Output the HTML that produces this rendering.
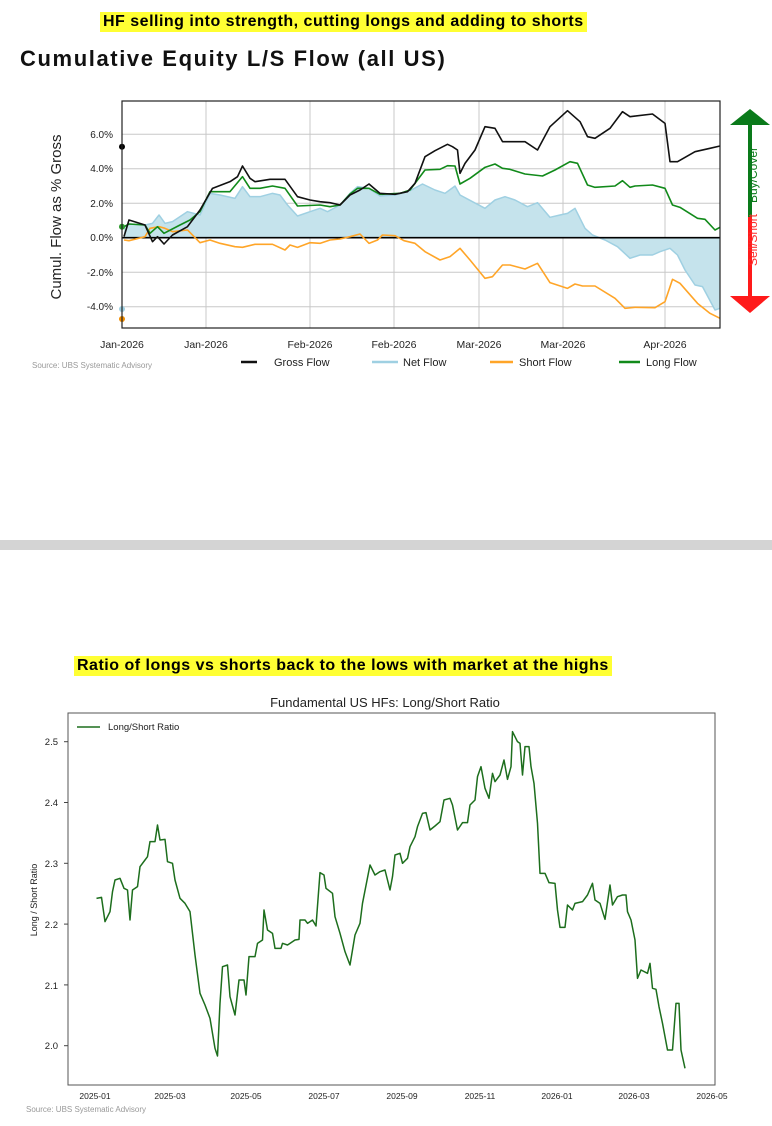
<!DOCTYPE html>
<html><head><meta charset="utf-8"><style>
body{margin:0;background:#fff;width:772px;height:1126px;overflow:hidden;position:relative;font-family:"Liberation Sans",sans-serif}
.hl{position:absolute;background:#ffff33;font-weight:bold;font-size:16px;letter-spacing:0.5px;color:#000;line-height:20px;padding:0 3px;white-space:nowrap}
</style></head><body>
<div class="hl" style="left:100px;top:12px">HF selling into strength, cutting longs and adding to shorts</div>
<div style="position:absolute;left:20px;top:46px;font-size:22px;letter-spacing:1.6px;font-weight:bold;color:#111;white-space:nowrap">Cumulative Equity L/S Flow (all US)</div>
<div style="position:absolute;left:0;top:540px;width:772px;height:10px;background:#d4d4d4"></div>
<div class="hl" style="left:74px;top:656px">Ratio of longs vs shorts back to the lows with market at the highs</div>
<svg width="772" height="1126" style="position:absolute;left:0;top:0" font-family="Liberation Sans, DejaVu Sans, sans-serif">
<g stroke="#c8c8c8" stroke-width="1">
<line x1="122" x2="720" y1="134.3" y2="134.3"/><line x1="122" x2="720" y1="168.8" y2="168.8"/><line x1="122" x2="720" y1="203.3" y2="203.3"/><line x1="122" x2="720" y1="272.2" y2="272.2"/><line x1="122" x2="720" y1="306.7" y2="306.7"/>
<line x1="206" x2="206" y1="101" y2="328"/><line x1="310" x2="310" y1="101" y2="328"/><line x1="394" x2="394" y1="101" y2="328"/><line x1="479" x2="479" y1="101" y2="328"/><line x1="563" x2="563" y1="101" y2="328"/><line x1="665" x2="665" y1="101" y2="328"/>
</g>
<g transform="translate(0,80) scale(0.5,0.33333)" fill="none" stroke-linejoin="round">
<polygon fill="#c5e3ec" stroke="none" points="248,473 248,440 258,432 290,435 305,430 318,405 330,430 345,425 375,395 400,405 420,340 440,345 470,355 485,320 500,350 520,350 545,340 560,345 575,375 595,408 620,395 640,385 655,395 680,375 700,340 715,320 738,325 760,348 790,345 820,332 845,312 870,330 890,340 910,318 920,345 945,365 970,385 990,360 1010,350 1030,360 1055,380 1075,368 1100,412 1120,405 1135,400 1150,385 1170,445 1185,465 1210,480 1235,500 1260,535 1280,525 1305,525 1320,515 1340,505 1355,525 1370,570 1390,615 1405,620 1430,690 1440,685 1440,473"/>
<polyline vector-effect="non-scaling-stroke" stroke="#9fd0e2" stroke-width="1.5" points="248,440 258,432 290,435 305,430 318,405 330,430 345,425 375,395 400,405 420,340 440,345 470,355 485,320 500,350 520,350 545,340 560,345 575,375 595,408 620,395 640,385 655,395 680,375 700,340 715,320 738,325 760,348 790,345 820,332 845,312 870,330 890,340 910,318 920,345 945,365 970,385 990,360 1010,350 1030,360 1055,380 1075,368 1100,412 1120,405 1135,400 1150,385 1170,445 1185,465 1210,480 1235,500 1260,535 1280,525 1305,525 1320,515 1340,505 1355,525 1370,570 1390,615 1405,620 1430,690 1440,685"/>
<line vector-effect="non-scaling-stroke" x1="245" x2="1440" y1="473" y2="473" stroke="#000" stroke-width="1.6"/>
<polyline vector-effect="non-scaling-stroke" stroke="#ffa528" stroke-width="1.6" points="248,480 258,482 290,470 300,445 318,440 330,445 345,455 375,450 400,488 420,480 440,490 470,500 485,502 510,493 545,493 570,510 580,495 595,502 620,488 640,490 660,480 680,477 700,470 720,462 738,490 755,480 765,465 790,467 808,482 830,490 850,515 880,540 900,530 920,505 940,540 970,595 985,590 1005,555 1020,555 1050,567 1075,550 1100,608 1135,625 1150,612 1165,618 1190,618 1230,655 1250,685 1270,682 1310,683 1330,665 1345,598 1360,610 1395,670 1420,700 1440,715"/>
<polyline vector-effect="non-scaling-stroke" stroke="#118a1a" stroke-width="1.6" points="248,440 258,432 290,435 300,460 315,440 328,460 360,435 380,420 400,395 420,335 440,335 460,335 485,290 500,325 520,325 545,318 570,325 595,378 640,375 660,380 680,375 700,342 715,325 738,325 760,343 800,340 820,330 850,270 880,268 895,257 910,258 920,312 940,295 970,262 990,252 1005,265 1020,268 1050,282 1085,288 1110,270 1140,245 1155,250 1175,315 1190,322 1230,318 1245,302 1260,322 1270,318 1305,315 1330,325 1345,375 1360,382 1395,415 1410,418 1430,450 1440,442"/>
<polyline vector-effect="non-scaling-stroke" stroke="#111" stroke-width="1.6" points="248,470 258,420 290,435 305,485 315,470 328,492 345,465 375,440 400,390 425,325 460,305 475,290 485,258 500,295 510,305 540,298 570,298 595,350 620,360 640,365 660,368 680,375 700,345 720,330 738,312 760,340 790,343 815,335 830,310 850,230 870,212 895,193 905,200 915,210 920,280 930,250 950,210 970,140 990,145 1005,185 1050,185 1075,210 1100,140 1135,92 1160,125 1175,170 1190,175 1220,145 1245,95 1260,110 1305,102 1330,130 1340,245 1355,245 1390,215 1420,205 1440,198"/>
</g>
<circle cx="122" cy="146.7" r="3" fill="#000"/><circle cx="122" cy="309" r="3" fill="#9fd0e2"/><circle cx="122" cy="319" r="3" fill="#f08c00"/><circle cx="122" cy="226.7" r="3" fill="#2a9a2a"/>
<rect x="122" y="101" width="598" height="227" fill="none" stroke="#222" stroke-width="1.2"/>
<g font-size="10" fill="#222" text-anchor="end">
<text x="113" y="138">6.0%</text><text x="113" y="172">4.0%</text><text x="113" y="207">2.0%</text><text x="113" y="241">0.0%</text><text x="113" y="276">-2.0%</text><text x="113" y="310">-4.0%</text>
</g>
<text transform="translate(61,217) rotate(-90)" font-size="15" fill="#222" text-anchor="middle">Cumul. Flow as % Gross</text>
<g font-size="10.5" fill="#222" text-anchor="middle">
<text x="122" y="348">Jan-2026</text><text x="206" y="348">Jan-2026</text><text x="310" y="348">Feb-2026</text><text x="394" y="348">Feb-2026</text><text x="479" y="348">Mar-2026</text><text x="563" y="348">Mar-2026</text><text x="665" y="348">Apr-2026</text>
</g>
<g font-size="11" fill="#222">
<line x1="241" x2="257" y1="362" y2="362" stroke="#111" stroke-width="2.5"/><text x="274" y="366">Gross Flow</text>
<line x1="372" x2="398" y1="362" y2="362" stroke="#9fd0e2" stroke-width="2.5"/><text x="403" y="366">Net Flow</text>
<line x1="490" x2="513" y1="362" y2="362" stroke="#ffa528" stroke-width="2.5"/><text x="519" y="366">Short Flow</text>
<line x1="619" x2="640" y1="362" y2="362" stroke="#118a1a" stroke-width="2.5"/><text x="646" y="366">Long Flow</text>
</g>
<text x="32" y="368" font-size="8" fill="#999">Source: UBS Systematic Advisory</text>
<line x1="750" x2="750" y1="124" y2="217" stroke="#0a7a1a" stroke-width="4"/>
<line x1="750" x2="750" y1="217" y2="297" stroke="#ff1a1a" stroke-width="4"/>
<polygon points="730,125 770,125 750,109" fill="#0a7a1a"/>
<polygon points="730,296 770,296 750,313" fill="#ff1a1a"/>
<text transform="translate(757,240) rotate(-90)" font-size="12" fill="#ff2a2a" text-anchor="middle">Sell/Short</text>
<text transform="translate(757,175) rotate(-90)" font-size="12" fill="#0a7a1a" text-anchor="middle">Buy/Cover</text>
<text x="385" y="707" font-size="13" fill="#222" text-anchor="middle">Fundamental US HFs: Long/Short Ratio</text>
<rect x="68" y="713" width="647" height="372" fill="none" stroke="#555" stroke-width="1"/>
<g transform="translate(0,690) scale(0.5,0.33333)">
<polyline vector-effect="non-scaling-stroke" fill="none" stroke="#1d6e1d" stroke-width="1.5" stroke-linejoin="round" points="193,625 203,622 210,695 220,665 225,605 230,570 240,565 248,595 255,600 260,690 265,600 275,590 280,530 290,510 295,500 300,455 310,455 315,405 320,450 330,448 335,515 345,520 350,570 360,625 370,640 380,665 390,795 400,910 410,945 420,985 430,1075 435,1098 440,940 445,830 455,825 460,920 470,975 478,870 488,870 492,915 498,800 510,800 515,760 525,750 528,660 535,720 545,730 550,775 562,775 565,760 575,765 580,760 590,750 598,748 600,690 610,690 615,700 625,690 632,708 640,548 648,555 652,595 665,610 670,680 680,730 690,785 700,825 710,735 720,700 725,640 740,525 750,555 760,545 770,540 780,600 785,560 790,495 800,490 805,520 815,505 820,470 830,440 835,410 845,370 852,368 860,420 870,408 880,395 888,330 900,325 905,345 915,420 925,398 935,398 940,345 950,330 955,260 962,230 970,295 978,325 985,250 990,275 1000,255 1008,210 1015,268 1022,230 1025,125 1035,155 1040,160 1045,255 1050,170 1058,170 1062,230 1068,280 1075,400 1080,550 1090,550 1098,578 1110,580 1115,660 1120,712 1130,712 1135,645 1145,660 1150,640 1165,635 1175,615 1185,580 1190,630 1200,640 1210,688 1220,585 1225,645 1235,620 1245,615 1252,615 1255,665 1262,690 1270,750 1275,865 1282,840 1295,850 1300,820 1305,895 1312,898 1318,950 1325,1000 1335,1080 1345,1080 1352,940 1358,940 1362,1080 1370,1135"/>
</g>
<line x1="77" x2="100" y1="727" y2="727" stroke="#1d6e1d" stroke-width="1.5"/>
<text x="108" y="730" font-size="9.5" fill="#222">Long/Short Ratio</text>
<g font-size="9.5" fill="#222" text-anchor="end">
<text x="58" y="745">2.5</text><text x="58" y="806">2.4</text><text x="58" y="867">2.3</text><text x="58" y="928">2.2</text><text x="58" y="989">2.1</text><text x="58" y="1049">2.0</text>
</g>
<g stroke="#444"><line x1="64" x2="68" y1="741.7" y2="741.7"/><line x1="64" x2="68" y1="802.5" y2="802.5"/><line x1="64" x2="68" y1="863.3" y2="863.3"/><line x1="64" x2="68" y1="924.1" y2="924.1"/><line x1="64" x2="68" y1="984.9" y2="984.9"/><line x1="64" x2="68" y1="1045.7" y2="1045.7"/></g>
<text transform="translate(37,900) rotate(-90)" font-size="9" fill="#222" text-anchor="middle">Long / Short Ratio</text>
<g font-size="8.5" fill="#222" text-anchor="middle">
<text x="95" y="1099">2025-01</text><text x="170" y="1099">2025-03</text><text x="246" y="1099">2025-05</text><text x="324" y="1099">2025-07</text><text x="402" y="1099">2025-09</text><text x="480" y="1099">2025-11</text><text x="557" y="1099">2026-01</text><text x="634" y="1099">2026-03</text><text x="712" y="1099">2026-05</text>
</g>
<text x="26" y="1112" font-size="8" fill="#999">Source: UBS Systematic Advisory</text>
</svg>
</body></html>
